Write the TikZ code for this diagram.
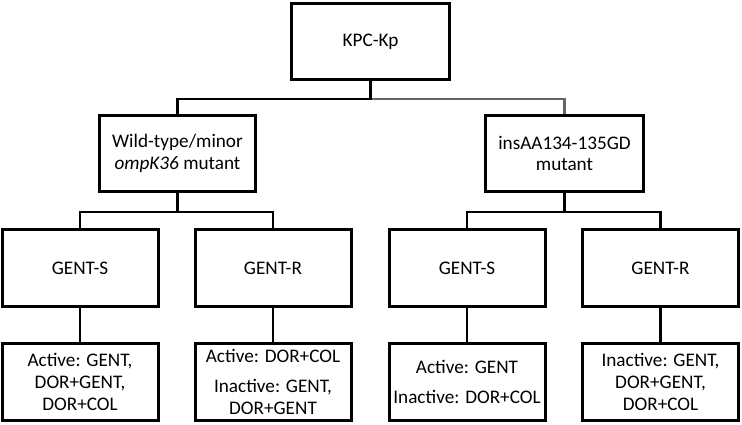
\documentclass[tikz,border=0pt]{standalone}
\usepackage{fontspec}
\setmainfont{Carlito}
\begin{document}
\begin{tikzpicture}[x=1pt,y=-1pt,
  box/.style={draw=black,line width=3pt,fill=white,align=center,inner sep=0pt,
    minimum width=156pt,minimum height=77pt,font=\fontsize{19.2}{21.8}\selectfont},
  conn/.style={draw=black,line width=2.8pt},
  gconn/.style={draw=black!60,line width=2.8pt}]
\useasboundingbox (0,0) rectangle (742,424);
\node[box,minimum width=158pt,minimum height=76pt] (top) at (370.5,41.5) {KPC-Kp};
\node[box,minimum height=76pt] (wt) at (177.5,153.5) {Wild-type/minor\\\textit{ompK36} mutant};
\node[box,minimum width=158pt,minimum height=76pt] (ins) at (564.5,153.5) {insAA134-135GD\\mutant};
\node[box] (s1) at (80,268) {GENT-S};
\node[box] (r1) at (273,268) {GENT-R};
\node[box] (s2) at (467,268) {GENT-S};
\node[box] (r2) at (660.5,268) {GENT-R};
\node[box] (a1) at (80,382) {Active: GENT,\\DOR+GENT,\\DOR+COL};
\node[box] (a2) at (273,382) {Active: DOR+COL\\[8pt]Inactive: GENT,\\DOR+GENT};
\node[box] (a3) at (467,382) {Active: GENT\\[8pt]Inactive: DOR+COL};
\node[box] (a4) at (660.5,382) {Inactive: GENT,\\DOR+GENT,\\DOR+COL};
\coordinate (m0) at (0,99);
\coordinate (m1) at (0,212);
% level 1 -> 2
\draw[gconn] (top.south |- m0) -| (ins.north);
\draw[conn] (top.south) -- (top.south |- m0) -| (wt.north);
% level 2 -> 3
\draw[conn] (wt.south) -- (wt.south |- m1);
\draw[conn] (s1.north) |- (r1.north |- m1) -- (r1.north);
\draw[conn] (ins.south) -- (ins.south |- m1);
\draw[conn] (s2.north) |- (r2.north |- m1) -- (r2.north);
% level 3 -> 4
\draw[conn] (s1) -- (a1);
\draw[conn] (r1) -- (a2);
\draw[conn] (s2) -- (a3);
\draw[conn] (r2) -- (a4);
\end{tikzpicture}
\end{document}
